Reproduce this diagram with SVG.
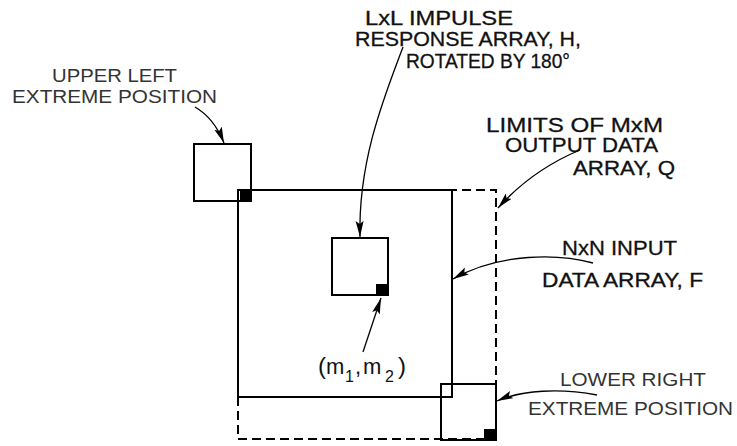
<svg xmlns="http://www.w3.org/2000/svg" width="737" height="446" viewBox="0 0 737 446">
<style>
  .box { fill: none; stroke: #000; stroke-width: 2; }
  .dash { fill: none; stroke: #000; stroke-width: 2; stroke-dasharray: 9 5; }
  .dot { fill: #000; }
  .lead { fill: none; stroke: #000; stroke-width: 1.3; }
  .lbl { font-family: "Liberation Sans", Arial, sans-serif; font-size: 20px; fill: #111; }
  .bold { stroke: #111; stroke-width: 0.3; }
  .light { fill: #333; font-size: 18px; }
</style>
<defs>
  <marker id="arr" markerUnits="userSpaceOnUse" markerWidth="18" markerHeight="10" refX="16" refY="4" orient="auto">
    <path d="M0,0 L16,4 L0,8 L3,4 z" fill="#000"/>
  </marker>
</defs>
<rect width="737" height="446" fill="#fff"/>

<g id="Q-output-limits">
  <rect class="dash" x="238" y="190" width="258" height="249"/>
</g>
<g id="F-input-array">
  <rect class="box" x="238" y="190" width="214" height="207"/>
</g>
<g id="upper-left-position">
  <rect class="box" x="194" y="144" width="57" height="57"/>
  <rect class="dot" x="240" y="190" width="12" height="12"/>
</g>
<g id="H-impulse-response">
  <rect class="box" x="332" y="238" width="56" height="57"/>
  <rect class="dot" x="376" y="284" width="12" height="12"/>
</g>
<g id="lower-right-position">
  <rect class="box" x="441" y="384" width="55" height="56"/>
  <rect class="dot" x="484" y="429" width="12" height="12"/>
</g>

<g id="labels">
  <g id="label-upper-left" class="lbl light">
    <text x="52" y="82" textLength="125" lengthAdjust="spacingAndGlyphs">UPPER LEFT</text>
    <text x="12" y="103" textLength="205" lengthAdjust="spacingAndGlyphs">EXTREME POSITION</text>
  </g>
  <g id="label-H" class="lbl bold">
    <text x="365" y="25" textLength="148" lengthAdjust="spacingAndGlyphs">LxL IMPULSE</text>
    <text x="355" y="46" textLength="226" lengthAdjust="spacingAndGlyphs">RESPONSE ARRAY, H,</text>
    <text x="406" y="68" textLength="164" lengthAdjust="spacingAndGlyphs">ROTATED BY 180°</text>
  </g>
  <g id="label-Q" class="lbl bold">
    <text x="486" y="132" textLength="177" lengthAdjust="spacingAndGlyphs">LIMITS OF MxM</text>
    <text x="505" y="152" textLength="153" lengthAdjust="spacingAndGlyphs">OUTPUT DATA</text>
    <text x="573" y="175" textLength="102" lengthAdjust="spacingAndGlyphs">ARRAY, Q</text>
  </g>
  <g id="label-F" class="lbl bold">
    <text x="562" y="255" textLength="115" lengthAdjust="spacingAndGlyphs">NxN INPUT</text>
    <text x="542" y="287" textLength="161" lengthAdjust="spacingAndGlyphs">DATA ARRAY, F</text>
  </g>
  <g id="label-lower-right" class="lbl light">
    <text x="560" y="386" textLength="146" lengthAdjust="spacingAndGlyphs">LOWER RIGHT</text>
    <text x="528" y="415" textLength="205" lengthAdjust="spacingAndGlyphs">EXTREME POSITION</text>
  </g>
  <g id="label-m" class="lbl">
    <text y="374" font-size="22"><tspan x="318" font-size="24">(</tspan><tspan x="326">m</tspan><tspan x="345" y="382" font-size="16">1</tspan><tspan x="355" y="374">,</tspan><tspan x="363">m</tspan><tspan x="385" y="382" font-size="16">2</tspan><tspan x="398" y="374" font-size="24">)</tspan></text>
  </g>
</g>

<g id="connectors">
  <path class="lead" d="M195,107 Q214,118 224,143" marker-end="url(#arr)"/>
  <path class="lead" d="M403,47 C385,95 358,160 360,237" marker-end="url(#arr)"/>
  <path class="lead" d="M580,150 Q532,170 498,208" marker-end="url(#arr)"/>
  <path class="lead" d="M593,263 C560,254 500,252 453,279" marker-end="url(#arr)"/>
  <path class="lead" d="M597,395 C560,388 522,390 497,401" marker-end="url(#arr)"/>
  <path class="lead" d="M363,352 L381,298" marker-end="url(#arr)"/>
</g>
</svg>
